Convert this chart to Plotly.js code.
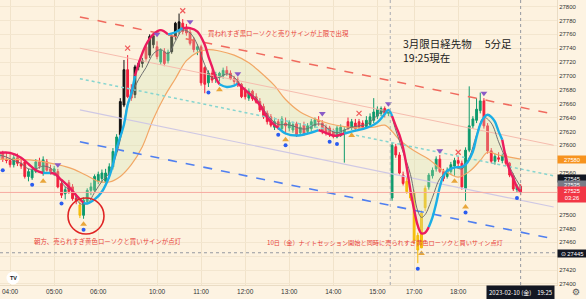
<!DOCTYPE html>
<html><head><meta charset="utf-8">
<script src="https://cdn.plot.ly/plotly-3.0.1.min.js"></script>
<style>html,body{margin:0;padding:0;background:#fdf3e2;}#chart{width:586px;height:299px;}</style>
</head><body><div id="chart"></div>
<script>
// ---- DATA ----
const times = ("03:45 03:50 03:55 04:00 04:05 04:10 04:15 04:20 04:25 04:30 04:35 04:40 04:45 04:50 04:55 " +
"05:00 05:05 05:10 05:15 05:20 05:25 05:30 05:35 05:40 05:45 05:50 05:55 06:00 " +
"08:45 08:50 08:55 09:00 09:05 09:10 09:15 09:20 09:25 09:30 09:35 09:40 09:45 09:50 09:55 " +
"10:00 10:05 10:10 10:15 10:20 10:25 10:30 10:35 10:40 10:45 10:50 10:55 " +
"11:00 11:05 11:10 11:15 11:20 11:25 11:30 11:35 11:40 11:45 11:50 11:55 " +
"12:00 12:05 12:10 12:15 12:20 12:25 12:30 12:35 12:40 12:45 12:50 12:55 " +
"13:00 13:05 13:10 13:15 13:20 13:25 13:30 13:35 13:40 13:45 13:50 13:55 " +
"14:00 14:05 14:10 14:15 14:20 14:25 14:30 14:35 14:40 14:45 14:50 14:55 " +
"15:00 15:05 15:10 15:15 16:30 16:35 16:40 16:45 16:50 16:55 " +
"17:00 17:05 17:10 17:15 17:20 17:25 17:30 17:35 17:40 17:45 17:50 17:55 " +
"18:00 18:05 18:10 18:15 18:20 18:25 18:30 18:35 18:40 18:45 18:50 18:55 " +
"19:00 19:05 19:10 19:15 19:20 19:25").split(" ");

const open = [27582,27588,27580,27578,27572,27582,27574,27576,27555,27553,27562,27576,27560,27576,27566,
27562,27562,27545,27530,27546,27540,27524,27514,27499,27519,27535,27535,27548,
27552,27548,27557,27569,27591,27615,27658,27709,27680,27673,27713,27718,27742,27730,27745,
27742,27720,27735,27722,27735,27757,27766,27776,27770,27763,27752,27738,
27742,27712,27690,27704,27696,27700,27700,27708,27704,27696,27694,27688,
27680,27668,27678,27670,27663,27656,27646,27641,27626,27634,27624,27632,
27625,27622,27631,27618,27629,27620,27624,27628,27636,27632,27626,27625,
27620,27612,27614,27618,27634,27626,27632,27634,27632,27627,27630,27636,
27642,27646,27653,27646,27524,27598,27586,27557,27548,27533,
27531,27470,27452,27510,27540,27556,27566,27580,27562,27555,27562,27570,
27578,27574,27538,27593,27628,27636,27650,27664,27628,27592,27577,27582,
27578,27585,27574,27556,27536,27541];
const high = [27592,27592,27590,27588,27586,27588,27582,27580,27566,27566,27580,27582,27584,27580,27572,
27570,27566,27550,27540,27550,27544,27530,27521,27525,27538,27546,27558,27562,
27565,27566,27574,27596,27616,27668,27723,27730,27688,27716,27722,27726,27746,27760,27762,
27750,27740,27740,27738,27760,27778,27790,27782,27775,27770,27756,27746,
27745,27714,27708,27708,27706,27706,27712,27714,27708,27700,27698,27690,
27684,27682,27680,27675,27668,27660,27650,27645,27640,27638,27642,27640,
27636,27634,27634,27632,27634,27632,27638,27640,27642,27636,27630,27628,
27624,27628,27630,27626,27640,27638,27638,27638,27636,27642,27646,27668,
27656,27656,27656,27652,27604,27602,27590,27562,27554,27538,
27535,27474,27506,27542,27560,27568,27584,27586,27566,27568,27576,27582,
27584,27578,27597,27685,27642,27668,27676,27668,27632,27596,27588,27590,
27588,27588,27576,27560,27544,27544];
const low = [27578,27576,27574,27568,27568,27570,27566,27552,27548,27550,27560,27566,27556,27562,27558,
27556,27538,27524,27522,27530,27520,27515,27495,27494,27515,27528,27532,27544,
27546,27545,27552,27565,27588,27610,27655,27668,27664,27668,27708,27712,27722,27726,27740,
27724,27716,27714,27718,27732,27752,27760,27760,27758,27744,27734,27730,
27686,27675,27684,27690,27690,27692,27696,27700,27694,27688,27684,27668,
27666,27664,27664,27660,27648,27638,27630,27626,27622,27622,27620,27616,
27620,27618,27612,27614,27614,27616,27620,27625,27628,27616,27614,27612,
27610,27610,27612,27575,27622,27622,27620,27622,27622,27624,27626,27632,
27638,27642,27640,27642,27520,27582,27558,27542,27530,27520,
27458,27430,27452,27505,27536,27552,27562,27560,27548,27552,27558,27556,
27568,27536,27520,27590,27624,27632,27646,27624,27588,27574,27572,27576,
27574,27570,27554,27534,27532,27528];
const close = [27588,27580,27578,27572,27582,27574,27570,27555,27562,27564,27576,27570,27579,27564,27562,
27566,27540,27528,27536,27533,27523,27520,27499,27521,27535,27540,27555,27558,
27560,27560,27569,27591,27612,27663,27709,27670,27668,27713,27718,27722,27725,27757,27758,
27728,27737,27718,27734,27757,27776,27778,27764,27762,27747,27738,27742,
27690,27688,27704,27694,27702,27704,27708,27704,27696,27692,27688,27670,
27670,27678,27667,27662,27651,27641,27634,27629,27634,27627,27638,27628,
27633,27630,27615,27626,27617,27628,27634,27637,27634,27620,27618,27615,
27613,27625,27626,27622,27625,27634,27624,27626,27626,27636,27641,27648,
27652,27653,27646,27648,27600,27586,27560,27545,27533,27524,
27463,27449,27502,27538,27557,27564,27580,27562,27552,27564,27572,27578,
27574,27540,27593,27628,27638,27652,27664,27628,27592,27577,27584,27580,
27585,27574,27557,27537,27541,27532];
// candle class: n = normal, b = overbought black, y = oversold yellow
const kinds = ("nnnnnnnnnnnnnnnnnnnnnnynnnnn" +
"nnnnnbbnnbbbnbbnnnnbbbnnnnnnn" +
"nnnnnnnnnnnnnnnnnnnnnnnnnnnnnnnnnnnnnnnnnnnnnnnnnnnnn" +
"nyyyyyynnnnnnnnnnnnnnnnnnnnnnnnnnnnnn").split("");

// moving averages (bar index, price)
const hmaX = [0,3,6,8,10,12,14,15,17,19,21,23,24,26,28,30,31,32,34,35,36,37,38,40,42,44,46,48,50,52,54,56,57,58,59,60,62,64,65,67,69,71,73,75,76,78,81,84,87,89,91,92,94,97,100,103,105,106,107,108,109,110,111,112,113,114,115,116,117,118,119,120,121,122,124,126,127,129,130,131,132,133,134,135,136,137,138,139,140,141,142];
const hmaY = [27589,27589,27582,27573,27564,27560,27560,27559,27550,27540,27528,27517,27516,27522,27533,27555,27572,27595,27630,27658,27675,27700,27718,27745,27760,27766,27760,27763,27769,27769,27764,27745,27728,27713,27697,27688,27684,27686,27689,27680,27670,27658,27640,27629,27625,27617,27614,27617,27622,27618,27614,27614,27617,27621,27625,27633,27645,27651,27642,27628,27615,27596,27568,27535,27507,27484,27473,27474,27482,27496,27516,27540,27556,27563,27568,27569,27572,27591,27612,27630,27640,27644,27641,27634,27620,27608,27582,27564,27552,27540,27532];
const hmaDir = "dddddduddddduuuuuuuuuuddddduuddddddduuudddddduuuudddduuuuuudddddddddduuuuuuuuuuuuuuuuudddddddddd".split("");
const greyX = [0,2,4,6,8,10,12,14,16,18,20,22,24,26,28,30,32,34,35,36,38,40,42,44,46,48,50,52,54,56,58,60,62,64,66,68,70,72,74,76,78,80,82,84,86,88,90,92,94,96,98,100,102,104,106,108,110,112,114,115,116,118,120,122,124,126,128,130,132,134,136,138,140,142];
const greyY = [27586,27583,27578,27574,27566,27566,27570,27567,27556,27540,27534,27516,27516,27532,27548,27560,27588,27632,27660,27672,27695,27712,27732,27738,27732,27750,27766,27762,27745,27716,27697,27698,27703,27698,27686,27676,27668,27652,27638,27630,27630,27628,27624,27624,27630,27630,27622,27618,27622,27626,27628,27630,27638,27648,27650,27622,27590,27558,27505,27496,27500,27525,27552,27562,27568,27566,27582,27615,27640,27632,27605,27580,27558,27540];
const slowX = [0,10,16,20,24,27,30,33,36,39,42,45,48,51,54,57,60,64,68,71,75,78,82,86,90,94,98,102,105,107,109,113,117,120,123,125,128,131,133,136,139,142];
const slowY = [27580,27578,27572,27566,27556,27548,27547,27555,27572,27598,27638,27670,27696,27722,27734,27738,27736,27730,27719,27706,27686,27666,27648,27638,27631,27627,27625,27626,27629,27620,27608,27592,27580,27567,27558,27554,27562,27578,27590,27586,27583,27580];

// signals
const buyX = [12,23,60,78,96,115,124,127];
const buyY = [27548,27486,27680,27608,27614,27444,27548,27511];
const sellX = [16,43,52,65,88,106,120,132];
const sellY = [27572,27760,27778,27703,27646,27660,27592,27675];
const crossX = [35,50,98,125];
const crossY = [27740,27794,27646,27590];
const dotX = [1,9,17,23,57,76,78,90,92,114,127,141];
const dotY = [27564,27543,27516,27478,27676,27615,27600,27605,27602,27422,27503,27524];

// parallel channel (bar index, price at both ends)
const chanX = [22,151];
const chanTop = [27785,27645];
const chanUpper = [27740,27600];
const chanMid = [27696,27556];
const chanLower = [27651,27511];
const chanBottom = [27605,27465];

const tickLabels = ["04:00","05:00","06:00","10:00","11:00","12:00","13:00","14:00","15:00","17:00","18:00"];
const yTicks = [27400,27420,27440,27460,27480,27500,27520,27540,27560,27580,27600,27620,27640,27660,27680,27700,27720,27740,27760,27780,27800];
const hiddenYTicks = [27440,27520,27540,27580]; // covered by price boxes
const crossPrice = 27445;

// ---- BUILD ----
const xs = times.map((t,i)=>i);
function sub(k){
  const idx = xs.filter(i=>kinds[i]===k);
  return {x:idx, open:idx.map(i=>open[i]), high:idx.map(i=>high[i]), low:idx.map(i=>low[i]), close:idx.map(i=>close[i])};
}
const traces = [];
traces.push({type:'scatter',mode:'lines',x:slowX,y:slowY,line:{color:'#f2a765',width:1.2,shape:'spline'},hoverinfo:'skip'});
traces.push({type:'scatter',mode:'lines',x:hmaX,y:hmaY,line:{width:0,shape:'spline'},fill:'tonexty',fillcolor:'rgba(210,230,180,0.3)',hoverinfo:'skip'});
const chan = [[chanTop,'#f06a5e','dash',1.5],[chanUpper,'#f6bcae','solid',1],[chanMid,'#86d5cf','dot',1.5],[chanLower,'#cfc8e4','solid',1.2],[chanBottom,'#4f7ff0','dash',1.6]];
chan.forEach(c=>traces.push({type:'scatter',mode:'lines',x:chanX,y:c[0],line:{color:c[1],dash:c[2],width:c[3]},hoverinfo:'skip'}));
const cn = sub('n'), cb = sub('b'), cy = sub('y');
traces.push(Object.assign({type:'candlestick',increasing:{line:{color:'#0e9a6c',width:1},fillcolor:'#0e9a6c'},decreasing:{line:{color:'#f2203c',width:1},fillcolor:'#f2203c'},hoverinfo:'skip'},cn));
traces.push(Object.assign({type:'candlestick',increasing:{line:{color:'#111111',width:1},fillcolor:'#111111'},decreasing:{line:{color:'#111111',width:1},fillcolor:'#111111'},hoverinfo:'skip'},cb));
traces.push(Object.assign({type:'candlestick',increasing:{line:{color:'#f2b705',width:1},fillcolor:'#f9c80e'},decreasing:{line:{color:'#f2b705',width:1},fillcolor:'#f9c80e'},hoverinfo:'skip'},cy));
traces.push({type:'scatter',mode:'lines',x:greyX,y:greyY,line:{color:'#707070',width:1,shape:'spline'},hoverinfo:'skip'});
const segs=[]; let cur={dir:hmaDir[0],x:[hmaX[0]],y:[hmaY[0]]};
for(let i=1;i<hmaX.length;i++){
  if(hmaDir[i]!==cur.dir){segs.push(cur);cur={dir:hmaDir[i],x:[cur.x[cur.x.length-1]],y:[cur.y[cur.y.length-1]]};}
  cur.x.push(hmaX[i]);cur.y.push(hmaY[i]);
}
segs.push(cur);
segs.forEach(s=>traces.push({type:'scatter',mode:'lines',x:s.x,y:s.y,line:{color:s.dir==='u'?'#1aaee6':'#ec1b5e',width:2.4,shape:'spline'},hoverinfo:'skip'}));
traces.push({type:'scatter',mode:'markers',x:dotX,y:dotY,marker:{color:'#2a5cf0',size:4},hoverinfo:'skip'});
traces.push({type:'scatter',mode:'markers',x:buyX,y:buyY,marker:{color:'#e9a63a',size:6,symbol:'triangle-up'},hoverinfo:'skip'});
traces.push({type:'scatter',mode:'markers',x:sellX,y:sellY,marker:{color:'#8a5bc7',size:6,symbol:'triangle-down'},hoverinfo:'skip'});
traces.push({type:'scatter',mode:'markers',x:crossX,y:crossY,marker:{color:'#f05a5a',size:5,symbol:'x-thin',line:{color:'#f05a5a',width:1.2}},hoverinfo:'skip'});

const W=557,H=285;
const px = v=>v/W, py = v=>1-v/H;
const jp = '"Noto Sans CJK JP", sans-serif';
const lastClose = close[close.length-1];
const ann = [
  {text:'買われすぎ黒ローソクと売りサインが上限で出現',x:px(278),y:py(33),color:'#e8423a',size:6.4},
  {text:'朝方、売られすぎ黄色ローソクと買いサインが点灯',x:px(107.5),y:py(241),color:'#e8423a',size:6.4},
  {text:'10日（金）ナイトセッション開始と同時に売られすぎ黄色ローソクと買いサイン点灯',x:px(384.5),y:py(242),color:'#e8423a',size:6.2}
].map(a=>({text:a.text,xref:'paper',yref:'paper',x:a.x,y:a.y,xanchor:'center',yanchor:'middle',showarrow:false,font:{family:jp,size:a.size,color:a.color}}));
ann.push({text:'3月限日経先物　 5分足',xref:'paper',yref:'paper',x:px(401),y:py(43),xanchor:'left',yanchor:'middle',showarrow:false,font:{family:jp,size:10.5,color:'#1a1a1a'}});
ann.push({text:'19:25現在',xref:'paper',yref:'paper',x:px(401),y:py(57.5),xanchor:'left',yanchor:'middle',showarrow:false,font:{family:jp,size:10.5,color:'#1a1a1a'}});
const boxes = [['27580',159.3,'#f7931e'],['27545',178.3,'#131722'],['27535',184.6,'#787b86'],['27525<br>03:26',194,'#f23645'],['⊙ 27445',253.3,'#131722']];
boxes.forEach(b=>ann.push({text:b[0],xref:'paper',yref:'paper',x:px(572),y:py(b[1]),xanchor:'center',yanchor:'middle',showarrow:false,bgcolor:b[2],borderpad:0.5,width:27,font:{family:'Liberation Sans',size:5.8,color:'#ffffff'}}));
ann.push({text:'2023-02-10 (金)　19:25',xref:'paper',yref:'paper',x:px(520),y:py(292.5),xanchor:'center',yanchor:'middle',showarrow:false,bgcolor:'#131722',borderpad:2,font:{family:jp,size:6,color:'#ffffff'}});
ann.push({text:'⚙',xref:'paper',yref:'paper',x:px(576),y:py(292),xanchor:'center',yanchor:'middle',showarrow:false,font:{family:'DejaVu Sans',size:9,color:'#555'}});
ann.push({text:'<b>TV</b>',xref:'paper',yref:'paper',x:px(13),y:py(278),xanchor:'center',yanchor:'middle',showarrow:false,font:{family:'Liberation Sans',size:5.5,color:'#131722'}});

const shapes = [
  {type:'line',xref:'paper',yref:'y',x0:0,x1:1,y0:lastClose,y1:lastClose,line:{color:'#f7aaa0',width:1}},
  {type:'line',xref:'paper',yref:'y',x0:0,x1:1,y0:crossPrice,y1:crossPrice,line:{color:'#9598a1',width:1,dash:'dot'}},
  {type:'line',xref:'x',yref:'paper',x0:106.5,x1:106.5,y0:0,y1:1,line:{color:'#a8abb3',width:1,dash:'dot'}},
  {type:'line',xref:'x',yref:'paper',x0:xs[xs.length-1],x1:xs[xs.length-1],y0:0,y1:1,line:{color:'#9598a1',width:1,dash:'dot'}},
  {type:'circle',xref:'paper',yref:'paper',x0:px(68),x1:px(104),y0:py(234),y1:py(198),line:{color:'#e02424',width:1.6}},
  {type:'circle',xref:'paper',yref:'paper',x0:px(6.5),x1:px(19.5),y0:py(284.5),y1:py(271.5),fillcolor:'#ffffff',line:{color:'#ffffff',width:0}}
];

const layout = {
  width:586,height:299,margin:{l:0,r:29,t:0,b:14},
  paper_bgcolor:'#fdf3e2',plot_bgcolor:'#fdf2df',
  showlegend:false,dragmode:false,boxmode:'overlay',
  xaxis:{type:'linear',range:[0.25,151.9],tickvals:tickLabels.map(t=>times.indexOf(t)),ticktext:tickLabels,
    showgrid:true,gridcolor:'#f1e3ca',gridwidth:1,zeroline:false,showline:true,linecolor:'#eadcc4',
    rangeslider:{visible:false},tickfont:{family:'Liberation Sans',size:6.5,color:'#333'},ticks:'',fixedrange:true},
  yaxis:{side:'right',range:[27398.5,27809.5],tickvals:yTicks,ticktext:yTicks.map(v=>hiddenYTicks.includes(v)?'':String(v)),showgrid:true,gridcolor:'#f3e6cf',
    zeroline:false,showline:true,linecolor:'#eadcc4',tickfont:{family:'Liberation Sans',size:6,color:'#333'},ticks:'',fixedrange:true},
  annotations:ann,shapes:shapes
};
Plotly.newPlot('chart',traces,layout,{staticPlot:true,displayModeBar:false});
</script></body></html>
